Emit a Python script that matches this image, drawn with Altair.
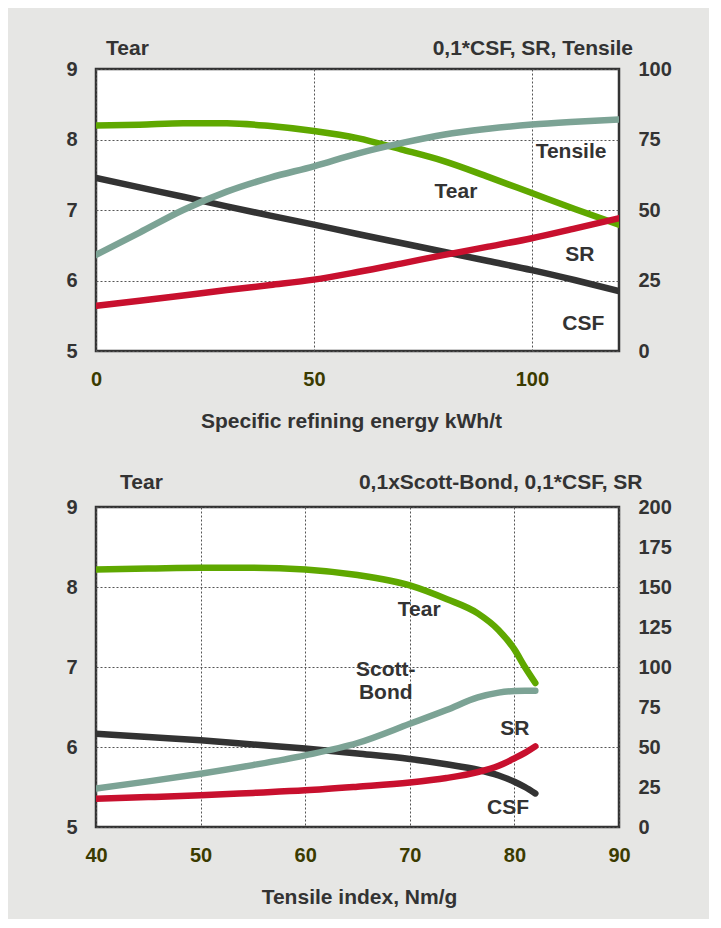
import altair as alt
import pandas as pd

# ---------------- data: top chart (x = specific refining energy) ----------------
energy = [0, 10, 20, 30, 40, 50, 60, 70, 80, 90, 100, 110, 120]
tear_top = [8.20, 8.21, 8.23, 8.23, 8.19, 8.12, 8.02, 7.86, 7.69, 7.47, 7.24, 7.01, 6.79]
tensile_top = [34.1, 42.0, 50.0, 56.5, 61.5, 65.5, 70.0, 73.7, 76.8, 78.8, 80.3, 81.3, 82.1]
csf_top = [61.4, 58.0, 54.7, 51.3, 48.0, 44.8, 41.5, 38.3, 35.1, 31.9, 28.7, 25.1, 21.2]
sr_top = [16.0, 17.8, 19.7, 21.6, 23.4, 25.3, 28.0, 31.0, 34.1, 37.0, 40.0, 43.5, 47.1]

top_labels = ["Tensile", "Tear", "SR", "CSF"]
top_label_x = [109, 82.6, 111, 111.8]
top_label_y = [7.82, 7.25, 6.36, 5.38]

# ---------------- data: bottom chart (x = tensile index) ----------------
tensile_idx = [40, 45, 50, 55, 60, 65, 70, 73.5, 76.5, 78.5, 80, 81, 82]
tear_bot = [8.22, 8.23, 8.24, 8.24, 8.22, 8.15, 8.02, 7.85, 7.67, 7.46, 7.22, 7.00, 6.80]
scott_bot = [24.0, 28.5, 33.3, 38.7, 44.8, 52.5, 64.5, 73.1, 81.0, 84.0, 85.0, 85.2, 85.2]
csf_bot = [58.3, 56.2, 54.2, 51.6, 49.0, 45.9, 42.5, 39.2, 35.8, 32.2, 28.3, 25.0, 21.0]
sr_bot = [17.7, 18.7, 19.8, 21.3, 22.9, 25.2, 27.8, 30.6, 34.3, 38.3, 42.9, 46.3, 50.4]

bot_labels = ["Tear", "Scott-", "Bond", "SR", "CSF"]
bot_label_x = [70.9, 67.7, 67.7, 80.05, 79.4]
bot_label_y = [7.71, 6.96, 6.68, 6.22, 5.24]

GREEN = "#5fa800"
TEAL = "#7ca395"
BLACK = "#333333"
RED = "#c8102e"
TXT = "#333333"
XLAB = "#3b3b00"
FONT = "Liberation Sans"
FS = 20
TFS = 21
LW = 6.5


def left_axis(title, tx, ty):
    return alt.Axis(values=[5, 6, 7, 8, 9], format="d", grid=True, gridColor="#555555",
                    gridDash=[2, 2], gridWidth=1, ticks=False, domain=False,
                    labelPadding=19, labelFont=FONT, labelFontSize=FS,
                    labelFontWeight="bold", labelColor=TXT, labelFlush=False,
                    labelOverlap=False, title=title, titleAngle=0, titleX=tx,
                    titleY=ty, titleAlign="center", titleBaseline="middle",
                    titleFont=FONT, titleFontSize=TFS, titleFontWeight="bold",
                    titleColor=TXT)


def right_axis(values, title, tx, ty):
    return alt.Axis(values=values, format="d", grid=False, ticks=False, domain=False,
                    labelPadding=19, labelFont=FONT, labelFontSize=FS,
                    labelFontWeight="bold", labelColor=TXT, labelFlush=False,
                    labelOverlap=False, title=title, titleAngle=0, titleX=tx,
                    titleY=ty, titleAlign="right", titleBaseline="middle",
                    titleFont=FONT, titleFontSize=TFS, titleFontWeight="bold",
                    titleColor=TXT)


def x_axis(values, title, tx):
    return alt.Axis(values=values, format="d", grid=True, gridColor="#555555",
                    gridDash=[2, 2], gridWidth=1, ticks=False, domain=False,
                    labelPadding=18, labelFont=FONT, labelFontSize=FS,
                    labelFontWeight="bold", labelColor=XLAB, labelFlush=False,
                    labelOverlap=False, title=title, titleY=70, titleX=tx,
                    titleBaseline="middle", titleFont=FONT, titleFontSize=TFS,
                    titleFontWeight="bold", titleColor=TXT)


def build(xvals, tear, rights, labels, lx, ly, xdomain, xticks, xtitle, xtx,
          rdomain, rticks, ltitle, ltx, lty, rtitle, rtx, rty, w, h):
    xs = alt.Scale(domain=xdomain, nice=False, zero=False)
    xenc = alt.X("x:Q", scale=xs, axis=x_axis(xticks, xtitle, xtx))
    ls = alt.Scale(domain=[5, 9], nice=False, zero=False)
    rs = alt.Scale(domain=rdomain, nice=False, zero=False)

    tear_df = pd.DataFrame({"x": xvals, "v": tear})
    tear_line = alt.Chart(tear_df).mark_line(
        color=GREEN, strokeWidth=LW, interpolate="monotone",
        strokeCap="round", clip=True
    ).encode(x=xenc, y=alt.Y("v:Q", scale=ls, axis=left_axis(ltitle, ltx, lty)))

    lab_df = pd.DataFrame({"x": lx, "v": ly, "t": labels})
    lab = alt.Chart(lab_df).mark_text(
        font=FONT, fontSize=TFS, fontWeight="bold", color=TXT,
        align="center", baseline="middle"
    ).encode(x=alt.X("x:Q", scale=xs), y=alt.Y("v:Q", scale=ls), text="t:N")

    left = alt.layer(tear_line, lab)

    rlayers = []
    for vals, col in rights:
        df = pd.DataFrame({"x": xvals, "r": vals})
        rlayers.append(
            alt.Chart(df).mark_line(
                color=col, strokeWidth=LW, interpolate="monotone",
                strokeCap="round", clip=True
            ).encode(x=alt.X("x:Q", scale=xs),
                     y=alt.Y("r:Q", scale=rs,
                             axis=right_axis(rticks, rtitle, rtx, rty)))
        )
    right = alt.layer(*rlayers)
    return alt.layer(left, right).resolve_scale(y="independent").properties(
        width=w, height=h)


top = build(energy, tear_top,
            [(csf_top, BLACK), (sr_top, RED), (tensile_top, TEAL)],
            top_labels, top_label_x, top_label_y,
            [0, 120], [0, 50, 100], "Specific refining energy kWh/t", 255,
            [0, 100], [0, 25, 50, 75, 100],
            "Tear", 31, -21, "0,1*CSF, SR, Tensile", 13.5, -21, 523, 282)

bottom = build(tensile_idx, tear_bot,
               [(csf_bot, BLACK), (scott_bot, TEAL), (sr_bot, RED)],
               bot_labels, bot_label_x, bot_label_y,
               [40, 90], [40, 50, 60, 70, 80, 90], "Tensile index, Nm/g", 263,
               [0, 200], [0, 25, 50, 75, 100, 125, 150, 175, 200],
               "Tear", 45, -25, "0,1xScott-Bond, 0,1*CSF, SR", 23, -25, 523, 320)

chart = alt.vconcat(top, bottom, spacing=36).properties(
    background="#e6e6e4",
    padding={"left": 56, "top": 27, "right": 36, "bottom": 10},
).configure_view(fill="white", stroke="#333333", strokeWidth=2.5)

chart.save("out.html", embed_options={"renderer": "svg", "actions": False})
